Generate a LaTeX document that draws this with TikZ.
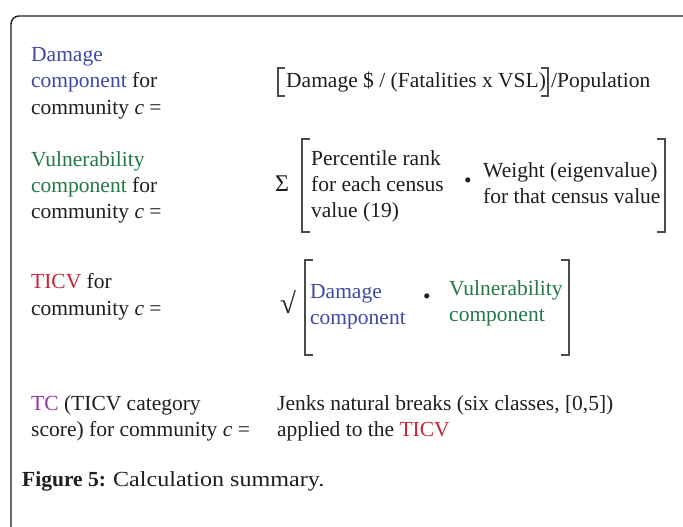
\documentclass[tikz,border=0pt]{standalone}
\usepackage{fontspec}
\setmainfont{Liberation Serif}
\newfontfamily\capfont[FakeStretch=1.12]{Liberation Serif}
\definecolor{ink}{RGB}{30,30,30}
\definecolor{dblue}{RGB}{62,72,165}
\definecolor{dgreen}{RGB}{35,120,70}
\definecolor{dred}{RGB}{200,35,55}
\definecolor{dpurple}{RGB}{150,50,160}
\newcommand\fs{\fontsize{21.5}{26}\selectfont}
\begin{document}
\begin{tikzpicture}[x=1pt,y=-1pt,
  txt/.style={anchor=base west,inner sep=0pt,font=\fs,text=ink},
  brk/.style={line width=1.3pt,draw=ink!80}]
\useasboundingbox (0,0) rectangle (683,527);
\clip (0,0) rectangle (683,527);
\draw[line width=1.4pt,rounded corners=8pt,draw=ink] (11,540) -- (11,16) -- (691,16) -- (691,540);
% block 1
\node[txt] (d1) at (31,62) {\textcolor{dblue}{Damage}};
\node[txt] (d2) at (31,88) {\textcolor{dblue}{component} for};
\node[txt] (d3) at (31,114) {community \textit{c} =};
\node[txt] (df) at (286,88) {Damage \$ / (Fatalities x VSL)};
\node[txt] (dp) at (551,88) {/Population};
\draw[brk] (285,68) -- (278,68) -- (278,96) -- (285,96);
\draw[brk] (541,68) -- (548,68) -- (548,96) -- (541,96);
% block 2
\node[txt] (v1) at (31,166) {\textcolor{dgreen}{Vulnerability}};
\node[txt] (v2) at (31,192) {\textcolor{dgreen}{component} for};
\node[txt] (v3) at (31,218) {community \textit{c} =};
\node[txt,font=\fontsize{24}{26}\selectfont] (sig) at (275,191) {Σ};
\draw[brk] (310,139) -- (302,139) -- (302,232) -- (310,232);
\draw[brk] (657,139) -- (665,139) -- (665,232) -- (657,232);
\node[txt] (p1) at (311,165) {Percentile rank};
\node[txt] (p2) at (311,191) {for each census};
\node[txt] (p3) at (311,217) {value (19)};
\node[inner sep=0pt,font=\fs,text=ink] (dot1) at (468,183) {•};
\node[txt] (w1) at (483,177) {Weight (eigenvalue)};
\node[txt] (w2) at (483,203) {for that census value};
% block 3
\node[txt] (t1) at (31,288) {\textcolor{dred}{TICV} for};
\node[txt] (t2) at (31,315) {community \textit{c} =};
\node[txt,font=\fontsize{29}{30}\selectfont] (sq) at (280,313) {√};
\draw[brk] (313,260) -- (305,260) -- (305,355) -- (313,355);
\draw[brk] (561,260) -- (569,260) -- (569,355) -- (561,355);
\node[txt] (dc1) at (310,298) {\textcolor{dblue}{Damage}};
\node[txt] (dc2) at (310,324) {\textcolor{dblue}{component}};
\node[inner sep=0pt,font=\fs,text=ink] (dot2) at (427,299) {•};
\node[txt] (vc1) at (449,295) {\textcolor{dgreen}{Vulnerability}};
\node[txt] (vc2) at (449,321) {\textcolor{dgreen}{component}};
% block 4
\node[txt] (c1) at (31,410) {\textcolor{dpurple}{TC} (TICV category};
\node[txt] (c2) at (31,436) {score) for community \textit{c} =};
\node[txt] (j1) at (277,410) {Jenks natural breaks (six classes, [0,5])};
\node[txt] (j2) at (277,436) {applied to the \textcolor{dred}{TICV}};
% caption
\node[txt] (cap) at (22,486) {\textbf{Figure 5:} {\capfont Calculation summary.}};
\end{tikzpicture}
\end{document}
